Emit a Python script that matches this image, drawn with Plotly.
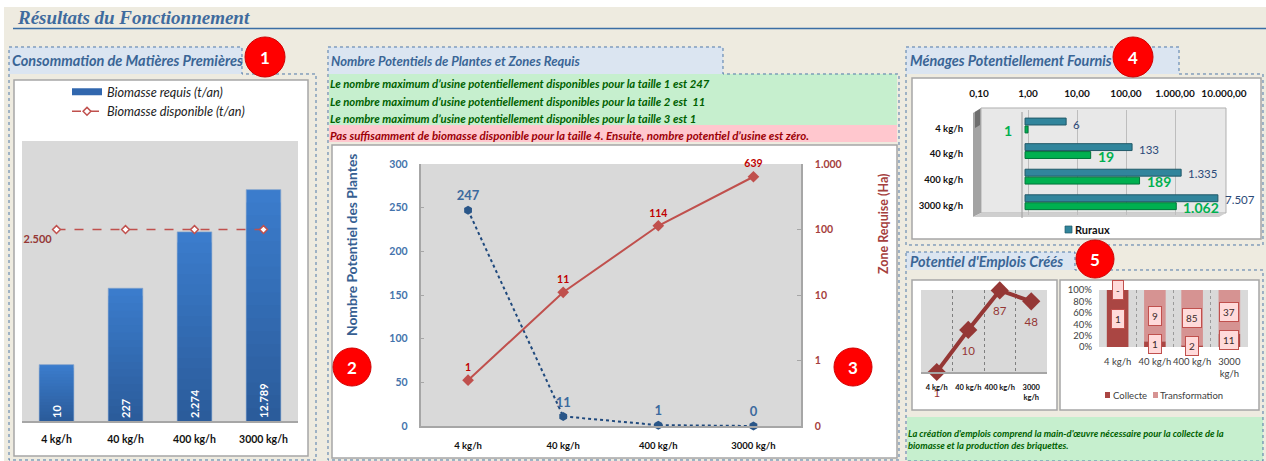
import math
import plotly.graph_objects as go

W, H = 1266, 461

# ---------- data ----------
sizes = ["4 kg/h", "40 kg/h", "400 kg/h", "3000 kg/h"]
biomass_required = [10, 227, 2274, 12789]
biomass_required_labels = ["10", "227", "2.274", "12.789"]
biomass_available = [2500, 2500, 2500, 2500]
biomass_available_labels = ["2.500", "", "", ""]

plants = [247, 11, 1, 0]
plants_labels = ["247", "11", "1", "0"]
zone = [0.5, 11, 114, 639]
zone_labels = ["1", "11", "114", "639"]
zone_ticks = [0.1, 1, 10, 100, 1000]
zone_tick_labels = ["0", "1", "10", "100", "1.000"]

rural = [6, 133, 1335, 7507]
rural_labels = ["6", "133", "1.335", "7.507"]
green_hh = [1, 19, 189, 1062]
green_hh_labels = ["1", "19", "189", "1.062"]
hh_ticks = [0.1, 1, 10, 100, 1000, 10000]
hh_tick_labels = ["0,10", "1,00", "10,00", "100,00", "1.000,00", "10.000,00"]

jobs = [1, 10, 87, 48]
jobs_labels = ["1", "10", "87", "48"]
collect = [1, 1, 2, 11]
transform = [0, 9, 85, 37]
wrapped_sizes = ["4 kg/h", "40 kg/h", "400 kg/h", "3000<br>kg/h"]

BG = "#EEEBE0"; HDR = "#DBE5F1"; BLUE_T = "#3A6596"; GREY_PLOT = "#D9D9D9"
FONT = "Lato"
RED = "#C0504D"; DRED = "#953735"


def hx(x0, x1):
    return [x0 / W, x1 / W]


def vy(y0, y1):
    return [1 - y1 / H, 1 - y0 / H]


def pX(x):
    return x / W


def pY(y):
    return 1 - y / H


def mix(a, b, f):
    a = [int(a[i:i + 2], 16) for i in (1, 3, 5)]
    b = [int(b[i:i + 2], 16) for i in (1, 3, 5)]
    return "#%02x%02x%02x" % tuple(round(p + (q - p) * f) for p, q in zip(a, b))


shapes, annots = [], []


def rect(x0, y0, x1, y1, fill, line=None, lw=1):
    shapes.append(dict(type="rect", xref="paper", yref="paper", x0=pX(x0), x1=pX(x1),
                       y0=pY(y1), y1=pY(y0), fillcolor=fill,
                       line=dict(color=line or fill, width=lw if line else 0), layer="below"))


def poly(pts, fill=None, line=None, lw=1, dash=None, close=True):
    d = "M" + " L".join(f"{pX(x):.5f},{pY(y):.5f}" for x, y in pts) + (" Z" if close else "")
    s = dict(type="path", xref="paper", yref="paper", path=d, layer="below",
             fillcolor=fill or "rgba(0,0,0,0)",
             line=dict(color=line or "rgba(0,0,0,0)", width=lw if line else 0))
    if dash:
        s["line"]["dash"] = dash
    shapes.append(s)


def text(x, y, t, size, color, anchor="left", bold=False, italic=False, family=FONT, angle=0):
    if bold:
        t = f"<b>{t}</b>"
    if italic:
        t = f"<i>{t}</i>"
    if anchor == "left":
        x -= 2.5
    annots.append(dict(xref="paper", yref="paper", x=pX(x), y=pY(y), text=t, showarrow=False,
                       xanchor=anchor, yanchor="middle", textangle=angle,
                       font=dict(family=family, size=size, color=color)))


def plotbg(ax, color=GREY_PLOT):
    shapes.append(dict(type="rect", xref=f"{ax[0]} domain", yref=f"{ax[1]} domain",
                       x0=0, x1=1, y0=0, y1=1, fillcolor=color, line=dict(width=0), layer="below"))


def badge(x, y, r, n):
    shapes.append(dict(type="circle", xref="paper", yref="paper", x0=pX(x - r), x1=pX(x + r),
                       y0=pY(y + r), y1=pY(y - r), fillcolor="#FF0000",
                       line=dict(color="#D00000", width=1), layer="above"))
    text(x, y, n, 17, "white", anchor="center", bold=True)


# ---------- page ----------
rect(4, 7, W + 2, H + 2, BG)
poly([(13, 28.5), (W, 28.5)], line="#3A6EA5", lw=1.6, close=False)
text(17, 17, "Résultats du Fonctionnement", 19, "#3F6B9E", bold=True, italic=True, family="Liberation Serif")

# panel fills and dashed frames
rect(9, 47, 242, 74, HDR)
rect(328, 47, 723, 74, HDR)
rect(906, 47, 1179, 74, HDR)
rect(906, 252, 1075, 270, HDR)
rect(329, 74, 897, 125, "#C6EFCE")
rect(329, 125, 897, 142, "#FFC7CE")
rect(907, 417, 1263, 461, "#C6EFCE")
dash_col = "#4F78A8"
poly([(9, 47), (242, 47), (242, 74), (316, 74), (316, 460), (9, 460)], line=dash_col, dash="dot")
poly([(328, 47), (723, 47), (723, 74), (899, 74), (899, 460), (328, 460)], line=dash_col, dash="dot")
poly([(906, 47), (1179, 47), (1179, 74), (1263, 74), (1263, 245), (906, 245)], line=dash_col, dash="dot")
poly([(906, 252), (1075, 252), (1075, 270), (1263, 270), (1263, 461), (906, 461)], line=dash_col, dash="dot")

# chart cards
GB = "#A6A6A6"
rect(14, 80, 308, 456, "white", GB, 1.5)
rect(332, 145, 897, 458, "white", GB, 1.5)
rect(912, 78, 1261, 239, "white", GB, 1.5)
rect(912, 280, 1057, 410, "white", GB, 1.5)
rect(1060, 280, 1259, 410, "white", GB, 1.5)

# headers and banners
text(12, 60.5, "Consommation de Matières Premières", 14.5, BLUE_T, bold=True, italic=True)
text(331, 61, "Nombre Potentiels de Plantes et Zones Requis", 13, BLUE_T, bold=True, italic=True)
text(910, 60.5, "Ménages Potentiellement Fournis", 14.4, BLUE_T, bold=True, italic=True)
text(910, 261, "Potentiel d'Emplois Créés", 14.5, BLUE_T, bold=True, italic=True)
GT = "#006100"
for yy, t in zip((84, 101, 118), (
        "Le nombre maximum d’usine potentiellement disponibles pour la taille 1 est 247",
        "Le nombre maximum d’usine potentiellement disponibles pour la taille 2 est  11",
        "Le nombre maximum d’usine potentiellement disponibles pour la taille 3 est 1")):
    text(330, yy, t, 11.35, GT, bold=True, italic=True)
text(330, 135, "Pas suffisamment de biomasse disponible pour la taille 4. Ensuite, nombre potentiel d’usine est zéro.",
     11.5, "#9C0006", bold=True, italic=True)
text(908, 433, "La création d'emplois comprend la main-d'œuvre nécessaire pour la collecte de la", 9.4, GT, bold=True, italic=True)
text(908, 445, "biomasse et la production des briquettes.", 9.4, GT, bold=True, italic=True)

fig = go.Figure()

# ---------- chart 1 ----------
plotbg(("x", "y"))
N = 18
for i in range(N):
    f = (N - i) / N
    fig.add_trace(go.Bar(x=sizes, y=[v ** f for v in biomass_required], width=0.5,
                         marker=dict(color=mix("#2A5A98", "#3B7CCC", f), line=dict(width=0)),
                         showlegend=False, hoverinfo="skip", xaxis="x", yaxis="y"))
fig.add_trace(go.Bar(x=sizes, y=biomass_required, width=0.5, text=biomass_required_labels,
                     textposition="inside", insidetextanchor="start", textangle=-90,
                     insidetextfont=dict(family=FONT, size=11, color="white", weight="bold"),
                     marker=dict(color="rgba(0,0,0,0)", line=dict(color="#7FA0CC", width=0.7)),
                     showlegend=False, hoverinfo="skip", xaxis="x", yaxis="y"))
fig.add_trace(go.Scatter(x=[None], y=[None], mode="lines", name="Biomasse requis (t/an)",
                         line=dict(color="#3167AE", width=7), xaxis="x", yaxis="y", legend="legend"))
fig.add_trace(go.Scatter(x=sizes, y=biomass_available, mode="lines+markers+text", name="Biomasse disponible (t/an)",
                         text=biomass_available_labels, textposition="bottom left",
                         textfont=dict(family=FONT, size=11, color=DRED, weight="bold"),
                         line=dict(color=RED, width=1.5, dash="dash"),
                         marker=dict(symbol="diamond", size=6, color="white", line=dict(color=RED, width=1.5)),
                         xaxis="x", yaxis="y", legend="legend"))

# ---------- chart 2 ----------
plotbg(("x2", "y2"))
fig.add_trace(go.Scatter(x=sizes, y=plants, mode="lines+markers+text", text=plants_labels, textposition="top center",
                         textfont=dict(family=FONT, size=13, color="#3C6A9E", weight="bold"), cliponaxis=False,
                         line=dict(color="#1F497D", width=2, dash="dot"),
                         marker=dict(symbol="hexagon", size=9, color="#2A5688"),
                         showlegend=False, xaxis="x2", yaxis="y2"))
fig.add_trace(go.Scatter(x=sizes, y=zone, mode="lines+markers+text", text=zone_labels, textposition="top center",
                         textfont=dict(family=FONT, size=10.5, color="#C00000", weight="bold"), cliponaxis=False,
                         line=dict(color=RED, width=2),
                         marker=dict(symbol="diamond", size=9, color=RED),
                         showlegend=False, xaxis="x2", yaxis="y3"))
text(351, 245, "Nombre Potentiel des Plantes", 13.8, "#376092", anchor="center", bold=True, angle=-90)
text(883, 224, "Zone Requise (Ha)", 12.5, "#A5403D", anchor="center", bold=True, angle=-90)

# ---------- chart 4 ----------
poly([(981, 108), (1226, 108), (1226, 213), (981, 213)], fill="#E8E8E8", line="#B0B0B0")
poly([(973, 113), (981, 108), (981, 213), (973, 217)], fill="#A3A3A3")
poly([(975, 112), (980, 109), (980, 125), (975, 128)], fill="#6E6E6E")
poly([(981, 213), (1226, 213), (1219, 217), (973, 217)], fill="#CFCFCF")
poly([(1022, 112), (1022, 218)], line="#A6A6A6", lw=1.2, close=False)
BAR_START = 0.87
fig.add_trace(go.Bar(y=sizes, x=[v - BAR_START for v in rural], base=BAR_START, orientation="h", width=0.27, offset=-0.29,
                     marker=dict(color="#31859C", line=dict(color="#215968", width=1)),
                     showlegend=False, hoverinfo="skip", xaxis="x4", yaxis="y4"))
fig.add_trace(go.Bar(y=sizes, x=[v - BAR_START for v in green_hh], base=BAR_START, orientation="h", width=0.27, offset=0.02,
                     marker=dict(color="#00B050", line=dict(color="#00743A", width=1)),
                     showlegend=False, hoverinfo="skip", xaxis="x4", yaxis="y4"))
for i, c in enumerate(sizes):
    annots.append(dict(xref="x4", yref="y4", x=math.log10(rural[i]), y=c, text=rural_labels[i], showarrow=False,
                       xanchor="left", xshift=5, yshift=[1, 2, 3, 3][i],
                       font=dict(family=FONT, size=11.5, color="#2B4A78")))
    annots.append(dict(xref="x4", yref="y4", x=math.log10(green_hh[i]), y=c, text=f"<b>{green_hh_labels[i]}</b>",
                       showarrow=False, xanchor="right" if i == 0 else "left", xshift=-14 if i == 0 else 5, yshift=-5,
                       font=dict(family=FONT, size=14, color="#00B050")))
rect(1065, 226, 1072, 233, "#31859C", "#215968", 0.7)
text(1075, 229.5, "Ruraux", 11, "#111111", bold=True)

# ---------- chart 5 left ----------
plotbg(("x5", "y5"))
fig.add_trace(go.Scatter(x=sizes, y=jobs, mode="lines+markers", line=dict(color=DRED, width=4),
                         marker=dict(symbol="diamond", size=14, color=DRED), cliponaxis=False,
                         showlegend=False, xaxis="x5", yaxis="y5"))
fig.add_trace(go.Scatter(x=sizes, y=jobs, mode="markers+text", text=jobs_labels, textposition="bottom center",
                         marker=dict(size=24, opacity=0), textfont=dict(family=FONT, size=11.5, color=DRED),
                         cliponaxis=False, showlegend=False, hoverinfo="skip", xaxis="x5", yaxis="y5"))

# ---------- chart 5 right ----------
plotbg(("x6", "y6"))
totals = [a + b for a, b in zip(collect, transform)]
collect_pct = [a / t * 100 for a, t in zip(collect, totals)]
transform_pct = [b / t * 100 for b, t in zip(transform, totals)]
C_COL, T_COL = "#AA4643", "#D69392"
fig.add_trace(go.Bar(x=sizes, y=collect_pct, width=0.58, marker=dict(color=C_COL, line=dict(width=0)),
                     showlegend=False, hoverinfo="skip", xaxis="x6", yaxis="y6"))
fig.add_trace(go.Bar(x=sizes, y=transform_pct, base=collect_pct, width=0.58, marker=dict(color=T_COL, line=dict(width=0)),
                     showlegend=False, hoverinfo="skip", xaxis="x6", yaxis="y6"))
for i, c in enumerate(sizes):
    for val, mid in ((collect[i], collect_pct[i] / 2), (transform[i], collect_pct[i] + transform_pct[i] / 2)):
        annots.append(dict(xref="x6", yref="y6", x=c, y=mid, text=str(val) if val else "-", showarrow=False,
                           bgcolor="#FFDADA", bordercolor="#C0504D", borderwidth=1, borderpad=3,
                           font=dict(family=FONT, size=10, color="#3A2A2A")))
rect(1105, 392, 1110, 398, C_COL)
text(1113, 395, "Collecte", 9.5, "#404040")
rect(1153, 392, 1158, 398, T_COL)
text(1160, 395, "Transformation", 9.5, "#404040")

# badges
badge(265, 57, 20, "1")
badge(352, 367, 19, "2")
badge(853, 367, 19, "3")
badge(1133, 57, 20, "4")
badge(1095, 259, 19, "5")

grey_axis = dict(showline=True, linecolor=GB, linewidth=1.5, showgrid=False, zeroline=False)
CAT_RANGE = [-0.5, 3.5]

fig.update_layout(
    width=W, height=H, autosize=False, margin=dict(l=0, r=0, t=0, b=0, autoexpand=False),
    paper_bgcolor="white", plot_bgcolor="rgba(0,0,0,0)", barmode="overlay", hovermode=False,
    shapes=shapes, annotations=annots,
    legend=dict(x=pX(67), y=pY(77), xanchor="left", yanchor="top", bgcolor="rgba(0,0,0,0)",
                font=dict(family=FONT, size=12.7, color="#222222", style="italic"), itemwidth=30,
                tracegroupgap=2),
    # chart 1
    xaxis=dict(domain=hx(22, 298), anchor="y", type="category", categoryarray=sizes, range=CAT_RANGE, ticks="", tickangle=0,
               tickfont=dict(family=FONT, size=10.5, color="#111111", weight="bold"), ticklabelstandoff=8, **grey_axis),
    yaxis=dict(domain=vy(141, 421), anchor="x", type="log", range=[0, 4.97], showticklabels=False, ticks="",
               showgrid=False, zeroline=False, showline=False),
    # chart 2
    xaxis2=dict(domain=hx(420.5, 801), anchor="y2", type="category", categoryarray=sizes, range=CAT_RANGE, ticks="", tickangle=0,
                tickfont=dict(family=FONT, size=9.5, color="#111111", weight="bold"), ticklabelstandoff=10, **grey_axis),
    yaxis2=dict(domain=vy(164, 426), anchor="x2", range=[0, 300], dtick=50, ticks="inside", ticklen=4, tickcolor=GB,
                tickfont=dict(family=FONT, size=10.5, color="#4473AC", weight="bold"), ticklabelstandoff=9, **grey_axis),
    yaxis3=dict(domain=vy(164, 426), anchor="x2", overlaying="y2", side="right", type="log", range=[-1, 3],
                tickvals=zone_ticks, ticktext=zone_tick_labels, ticks="inside", ticklen=4, tickcolor=GB,
                tickfont=dict(family=FONT, size=10.5, color="#A5403D", weight="bold"), ticklabelstandoff=10, **grey_axis),
    # chart 4
    xaxis4=dict(domain=hx(979, 1224), anchor="y4", side="top", type="log", range=[-1, 4], tickangle=0,
                tickvals=hh_ticks, ticktext=hh_tick_labels, showgrid=True, gridcolor="#BDBDBD", gridwidth=1, zeroline=False,
                showline=False, ticks="", tickfont=dict(family=FONT, size=10, color="#111111", weight="bold"),
                ticklabelstandoff=10),
    yaxis4=dict(domain=vy(110, 215), anchor="x4", type="category", categoryarray=sizes, autorange="reversed",
                ticks="", showgrid=False, zeroline=False, showline=False,
                tickfont=dict(family=FONT, size=9.5, color="#111111", weight="bold"), ticklabelstandoff=15,
                ticklabelshift=-3),
    # chart 5 left
    xaxis5=dict(domain=hx(921, 1047), anchor="y5", type="category", categoryarray=sizes, range=CAT_RANGE, tickvals=sizes,
                ticktext=wrapped_sizes, tickson="boundaries", ticks="", showgrid=True, griddash="dot", gridcolor="#7F7F7F",
                gridwidth=1, zeroline=False, showline=True, linecolor=GB, linewidth=2, tickangle=0,
                tickfont=dict(family=FONT, size=7.5, color="#111111", weight="bold"), ticklabelstandoff=7),
    yaxis5=dict(domain=vy(290, 372), anchor="x5", type="log", range=[0, 1.95], showticklabels=False, ticks="",
                showgrid=False, zeroline=False, showline=False),
    # chart 5 right
    xaxis6=dict(domain=hx(1099, 1248), anchor="y6", type="category", categoryarray=sizes, range=CAT_RANGE, tickvals=sizes,
                ticktext=wrapped_sizes, tickson="boundaries", ticks="", showgrid=True, griddash="dot", gridcolor="#9A9A9A",
                gridwidth=1, zeroline=False, showline=False, tickangle=0,
                tickfont=dict(family=FONT, size=9.5, color="#404040"), ticklabelstandoff=7),
    yaxis6=dict(domain=vy(290, 347), anchor="x6", range=[0, 100], dtick=20, ticksuffix="%", ticks="",
                showgrid=False, zeroline=False, showline=False,
                tickfont=dict(family=FONT, size=9.5, color="#404040"), ticklabelstandoff=6),
)

fig.write_html("out.html", config=dict(displayModeBar=False),
               post_script="document.body.style.margin='0';document.body.style.overflow='hidden';")
